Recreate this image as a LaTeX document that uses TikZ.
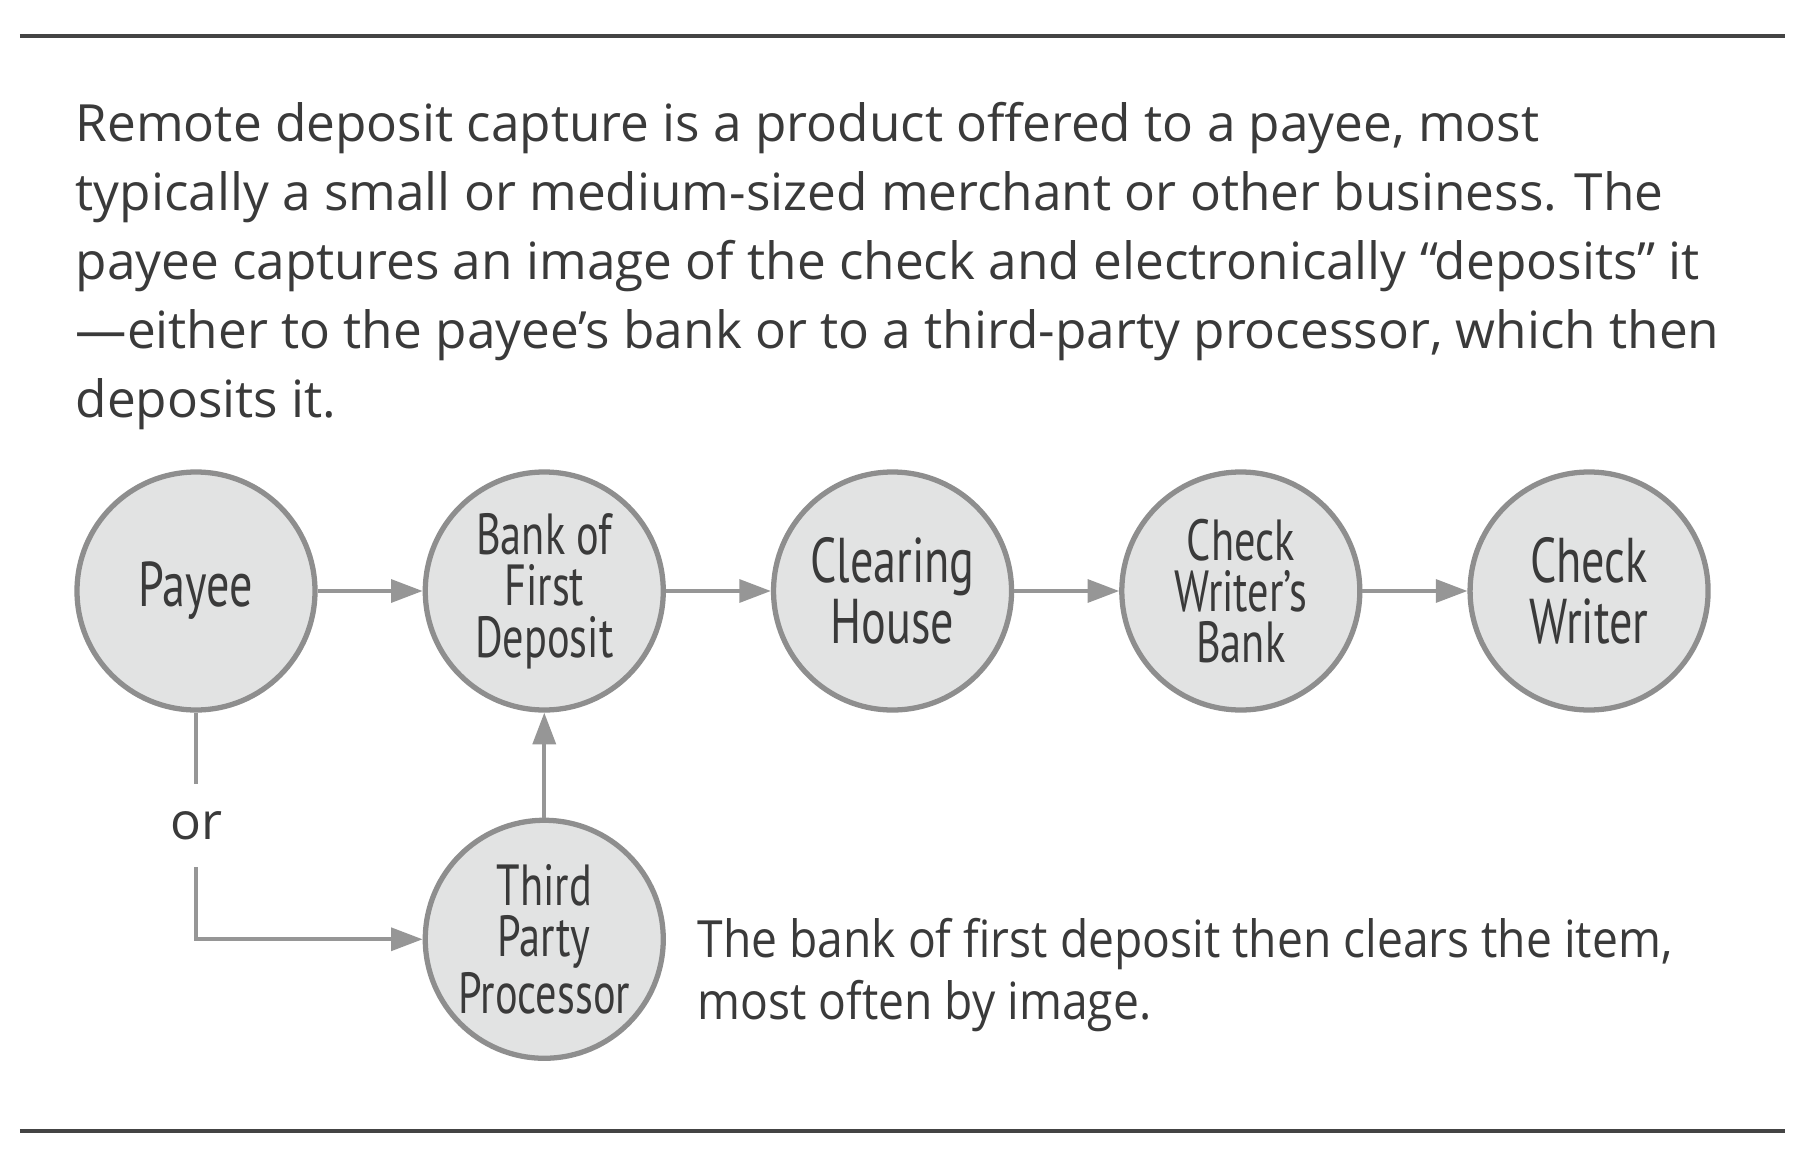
\documentclass[tikz,border=0pt]{standalone}
\usepackage{fontspec}
\setmainfont{Open Sans}
\newfontfamily\narrowfont[FakeStretch=0.73]{PT Sans}
\newfontfamily\semifont[FakeStretch=0.90]{Open Sans}
\usetikzlibrary{arrows.meta,positioning}
\definecolor{ink}{RGB}{58,58,58}
\definecolor{disc}{RGB}{226,227,227}
\definecolor{rim}{RGB}{142,142,142}
\definecolor{wire}{RGB}{150,150,150}
\definecolor{rule}{RGB}{68,68,68}

\begin{document}
\begin{tikzpicture}[x=1cm,y=1cm,font=\fontsize{14.6}{19.6}\selectfont,text=ink,
  stage/.style={circle,draw=rim,fill=disc,line width=1.5pt,minimum size=2.38cm,inner sep=0pt,
    align=center,font=\narrowfont\fontsize{18}{17.4}\selectfont},
  stagesm/.style={stage,font=\narrowfont\fontsize{16.5}{14.6}\selectfont},
  flow/.style={draw=wire,line width=1.1pt,-{Triangle[length=9pt,width=6.5pt]}}]
\useasboundingbox (0,0) rectangle (18.06,-11.66);
\draw[rule,line width=1.3pt] (0.2,-0.36) -- (17.85,-0.36);
\draw[rule,line width=1.3pt] (0.2,-11.31) -- (17.85,-11.31);
\node[anchor=north west,inner sep=0pt,align=left] (intro) at (0.75,-1.02)
  {Remote deposit capture is a product offered to a payee, most\\
   typically a small or medium-sized merchant or other business. The\\
   payee captures an image of the check and electronically “deposits” it\\
   —either to the payee’s bank or to a third-party processor, which then\\
   deposits it.};
% chain of circles
\node[stage] (payee) at (1.96,-5.91) {Payee};
\node[stagesm,right=1.05cm of payee] (bofd) {Bank of\\First\\Deposit};
\node[stage,right=1.05cm of bofd] (clearing) {Clearing\\House};
\node[stagesm,right=1.05cm of clearing] (cwbank) {Check\\Writer’s\\Bank};
\node[stage,right=1.05cm of cwbank] (cwriter) {Check\\Writer};
\node[stagesm,below=1.05cm of bofd] (tpp) {Third\\Party\\Processor};
\node[below=0.71cm of payee,minimum height=0.82cm,inner sep=0pt] (orlbl) {or};
\node[anchor=north west,inner sep=0pt,align=left,font=\semifont\fontsize{14.6}{17.6}\selectfont]
  (note) at (6.97,-9.18) {The bank of first deposit then clears the item,\\most often by image.};
\draw[flow] (payee) -- (bofd);
\draw[flow] (bofd) -- (clearing);
\draw[flow] (clearing) -- (cwbank);
\draw[flow] (cwbank) -- (cwriter);
\draw[flow] (tpp) -- (bofd);
\draw[draw=wire,line width=1.1pt] (payee) -- (orlbl);
\draw[flow] (orlbl) |- (tpp);
\end{tikzpicture}
\end{document}
